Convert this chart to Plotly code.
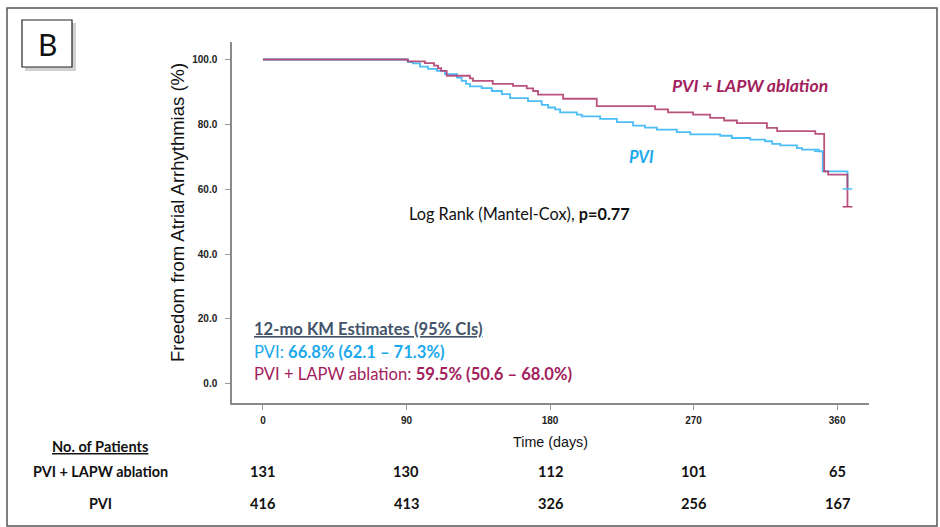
import plotly.graph_objects as go

# Kaplan-Meier step data (time in days, survival free of atrial arrhythmias in %)
lapw_days = [0, 90.8, 101.6, 107.3, 109.8, 111.7, 115.2, 129.8, 131.7, 144.1, 156.8,
             165.4, 169.4, 172.5, 188.2, 209.3, 245.9, 254.0, 269.7, 280.4, 289.2,
             297.2, 316.0, 322.4, 346.3, 351.9, 354.4, 366.5]
lapw_surv = [100, 99.4, 98.9, 98.1, 97.3, 96.5, 95.0, 94.2, 93.4, 92.5, 91.9,
             91.1, 90.3, 89.2, 87.9, 85.6, 84.6, 83.7, 83.0, 82.0, 81.2,
             80.4, 78.9, 77.9, 77.1, 65.5, 64.5, 54.6]

pvi_days = [0, 91.0, 94.0, 98.5, 103.5, 109.0, 114.2, 121.7, 124.6, 127.3, 129.8,
            137.2, 143.5, 149.8, 154.9, 166.2, 174.8, 178.8, 183.2, 186.3, 196.8,
            199.9, 211.4, 221.9, 232.1, 239.6, 247.0, 259.5, 267.9, 286.7, 294.0,
            305.5, 314.9, 319.3, 324.3, 334.8, 338.0, 348.5, 351.0, 366.5]
pvi_surv = [100, 99.2, 98.8, 97.8, 97.1, 96.5, 95.5, 94.4, 93.4, 92.5, 91.7,
            91.2, 90.3, 89.3, 88.1, 87.2, 86.0, 85.2, 84.6, 83.7, 83.0,
            82.5, 81.7, 80.7, 79.6, 79.0, 78.4, 77.6, 76.9, 76.5, 75.8,
            75.3, 74.8, 74.0, 73.5, 72.7, 72.2, 71.7, 65.5, 60.1]

# Censoring marks
pvi_cens_days = [348.5, 366.5]
pvi_cens_surv = [71.7, 60.1]
lapw_cens_days = [366.5]
lapw_cens_surv = [54.6]

# Number-at-risk table
risk_times = [0, 90, 180, 270, 360]
risk_lapw = [131, 130, 112, 101, 65]
risk_pvi = [416, 413, 326, 256, 167]

x_ticks = [0, 90, 180, 270, 360]
y_ticks = [0, 20, 40, 60, 80, 100]

BLUE = "#1CA9EC"
MAROON = "#A2215C"
CURVE_BLUE = "#4CBDF6"
CURVE_RED = "#B2406F"
ARIAL = "Liberation Sans"
CAL = "Lato"

W, H = 940, 527
L, R, T, B = 232, 869, 42, 403


def px(xp):
    return (xp - L) / (R - L)


def py(yp):
    return (B - yp) / (B - T)


fig = go.Figure()

fig.add_trace(go.Scatter(x=pvi_days, y=pvi_surv, mode="lines", line_shape="hv",
                         line=dict(color=CURVE_BLUE, width=1.8), name="PVI",
                         showlegend=False, hoverinfo="skip"))
fig.add_trace(go.Scatter(x=lapw_days, y=lapw_surv, mode="lines", line_shape="hv",
                         line=dict(color=CURVE_RED, width=1.8), opacity=0.9,
                         name="PVI + LAPW ablation", showlegend=False, hoverinfo="skip"))
fig.add_trace(go.Scatter(x=pvi_cens_days, y=pvi_cens_surv, mode="markers",
                         marker=dict(symbol="line-ew", size=7,
                                     line=dict(color=CURVE_BLUE, width=1.5)),
                         showlegend=False, hoverinfo="skip"))
fig.add_trace(go.Scatter(x=lapw_cens_days, y=lapw_cens_surv, mode="markers",
                         marker=dict(symbol="line-ew", size=7,
                                     line=dict(color=CURVE_RED, width=1.5)),
                         showlegend=False, hoverinfo="skip"))

annotations = []


def note(text, x, y, size, color="#111", xanchor="center", family=CAL, **kw):
    annotations.append(dict(text=text, x=x, y=y, xref=kw.pop("xref", "paper"),
                            yref="paper", xanchor=xanchor, yanchor="middle",
                            showarrow=False, font=dict(family=family, size=size, color=color),
                            **kw))


# Y axis title
note("Freedom from Atrial Arrhythmias (%)", px(177), py(213), 18.5, "#111",
     family=ARIAL, textangle=-90)

# Curve labels
note("<b><i>PVI + LAPW ablation</i></b>", px(750), py(86), 17.6, MAROON)
note("<b><i>PVI</i></b>", px(641), py(157), 16.5, BLUE)
note("Log Rank (Mantel-Cox), <b>p=0.77</b>", px(407), py(213), 16.3, "#111", xanchor="left")

# KM estimates box
note("<b><u>12-mo KM Estimates (95% CIs)</u></b>", px(252), py(329), 16.6, "#44546A", xanchor="left")
note("PVI: <b>66.8% (62.1 – 71.3%)</b>", px(252), py(352), 16.6, BLUE, xanchor="left")
note("PVI + LAPW ablation: <b>59.5% (50.6 – 68.0%)</b>", px(252), py(374), 16.6, MAROON, xanchor="left")

# Number-at-risk table
note("<b><u>No. of Patients</u></b>", px(100), py(446), 14.6, "#111")
note("<b>PVI + LAPW ablation</b>", px(100), py(471), 14.4, "#111")
note("<b>PVI</b>", px(100), py(503), 14.4, "#111")
for t, a, b in zip(risk_times, risk_lapw, risk_pvi):
    note(f"<b>{a}</b>", t, py(471), 14.6, "#111", xref="x")
    note(f"<b>{b}</b>", t, py(503), 14.6, "#111", xref="x")

# Panel letter
note("B", px(47), py(44), 30, "#111")

shapes = [
    # outer frame
    dict(type="rect", xref="paper", yref="paper", x0=px(7), x1=px(937), y0=py(8), y1=py(526),
         line=dict(color="#555", width=1.5), fillcolor="rgba(0,0,0,0)", layer="below"),
    # panel letter box with soft shadow
    dict(type="rect", xref="paper", yref="paper", x0=px(25), x1=px(76), y0=py(23), y1=py(71),
         line=dict(width=0), fillcolor="rgba(0,0,0,0.18)", layer="below"),
    dict(type="rect", xref="paper", yref="paper", x0=px(22), x1=px(72), y0=py(20), y1=py(67),
         line=dict(color="#222", width=1.2), fillcolor="white", layer="below"),
]

axis_common = dict(showgrid=False, zeroline=False, showline=True, linecolor="#8a8a8a",
                   linewidth=1.5, ticks="outside", ticklen=5, tickcolor="#9a9a9a",
                   tickwidth=1, tickfont=dict(family=ARIAL, size=10, color="#222", weight="bold"))

fig.update_layout(
    width=W, height=H,
    margin=dict(l=L, r=W - R, t=T, b=H - B, pad=0),
    paper_bgcolor="white", plot_bgcolor="white",
    xaxis=dict(range=[-19.4, 380], tickvals=x_ticks, ticklabelstandoff=2,
               title=dict(text="Time (days)", font=dict(family=ARIAL, size=14.3, color="#111"),
                          standoff=12),
               **axis_common),
    yaxis=dict(range=[-5.9, 105.4], tickvals=y_ticks, tickformat=".1f", ticklabelstandoff=6,
               **axis_common),
    annotations=annotations,
    shapes=shapes,
)

fig.write_html("out.html")
